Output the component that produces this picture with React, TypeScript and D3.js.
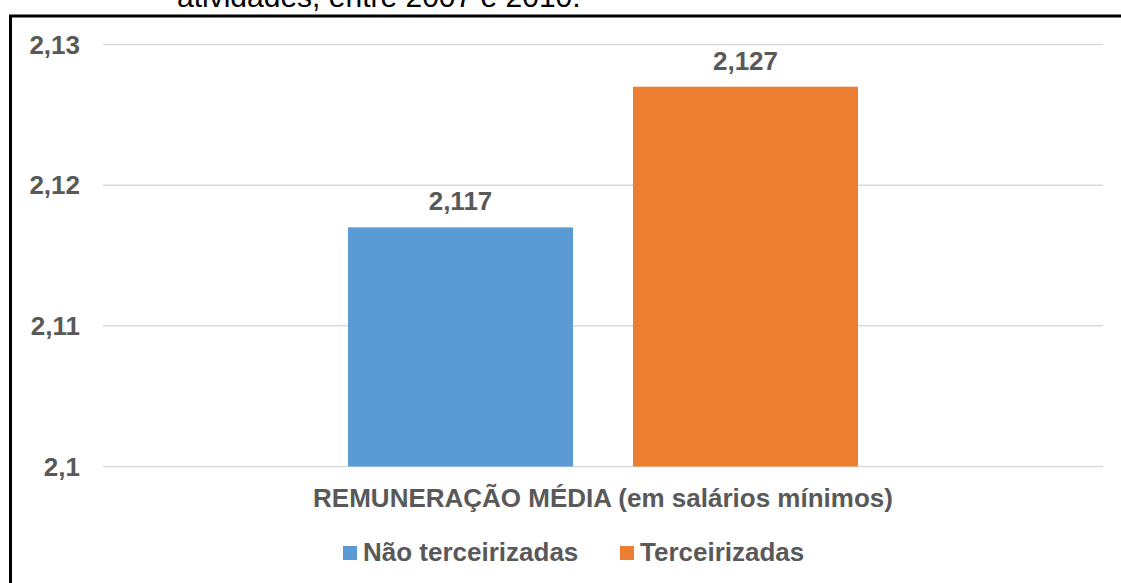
import React from "react";
import * as d3 from "d3";

const categories: string[] = ["REMUNERAÇÃO MÉDIA (em salários mínimos)"];
const seriesNames: string[] = ["Não terceirizadas", "Terceirizadas"];
const seriesValues: number[] = [2.117, 2.127];
const seriesColors: string[] = ["#5B9BD5", "#ED7D31"];
const tickValues: number[] = [2.1, 2.11, 2.12, 2.13];
const tickLabels: string[] = ["2,1", "2,11", "2,12", "2,13"];
const valueLabels: string[] = ["2,117", "2,127"];
const captionText = "atividades, entre 2007 e 2010.";

const W = 1121;
const H = 583;
const FONT = "'Liberation Sans', Arial, sans-serif";
const TEXT = "#595959";

export default function App() {
  const y = d3.scaleLinear().domain([2.1, 2.13]).range([466.5, 44.5]);
  const x0 = d3
    .scaleBand<string>()
    .domain(categories)
    .range([103, 1103])
    .paddingOuter(0.4804)
    .paddingInner(0);
  const cx = x0(categories[0]) as number;
  const x1 = d3
    .scaleBand<string>()
    .domain(seriesNames)
    .range([cx, cx + x0.bandwidth()])
    .paddingInner(0.2105)
    .paddingOuter(0);

  const legendX = [343, 620];

  return (
    <div style={{ position: "fixed", left: 0, top: 0, width: W, height: H, background: "#fff" }}>
      <svg width={W} height={H} style={{ display: "block" }}>
        <rect width={W} height={H} fill="#fff" />
        {/* cut caption */}
        <text x={177} y={7} fontFamily={FONT} fontSize={30} fill="#000">
          {captionText}
        </text>
        {/* frame */}
        <path d={`M10.5,${H + 5} L10.5,16 L${W + 5},16`} fill="none" stroke="#000" strokeWidth={3} />
        {/* gridlines */}
        {tickValues.map((t) => (
          <line key={t} x1={103} x2={1103} y1={y(t)} y2={y(t)} stroke="#D9D9D9" strokeWidth={1.5} />
        ))}
        {/* tick labels */}
        {tickValues.map((t, i) => (
          <text
            key={"l" + t}
            x={80}
            y={y(t) + 9}
            textAnchor="end"
            fontFamily={FONT}
            fontWeight="bold"
            fontSize={26}
            fill={TEXT}
          >
            {tickLabels[i]}
          </text>
        ))}
        {/* bars */}
        {seriesNames.map((s, i) => {
          const bx = x1(s) as number;
          const top = y(seriesValues[i]);
          return (
            <g key={s}>
              <rect x={bx} y={top} width={x1.bandwidth()} height={y(2.1) - top} fill={seriesColors[i]} />
              <text
                x={bx + x1.bandwidth() / 2}
                y={top - 17}
                textAnchor="middle"
                fontFamily={FONT}
                fontWeight="bold"
                fontSize={26}
                fill={TEXT}
              >
                {valueLabels[i]}
              </text>
            </g>
          );
        })}
        {/* category label */}
        <text
          x={cx + x0.bandwidth() / 2}
          y={507}
          textAnchor="middle"
          fontFamily={FONT}
          fontWeight="bold"
          fontSize={26}
          fill={TEXT}
        >
          {categories[0]}
        </text>
        {/* legend */}
        {seriesNames.map((s, i) => (
          <g key={"lg" + s}>
            <rect x={legendX[i]} y={546} width={14} height={14} fill={seriesColors[i]} />
            <text x={legendX[i] + 20} y={561} fontFamily={FONT} fontWeight="bold" fontSize={26} fill={TEXT}>
              {s}
            </text>
          </g>
        ))}
      </svg>
    </div>
  );
}
